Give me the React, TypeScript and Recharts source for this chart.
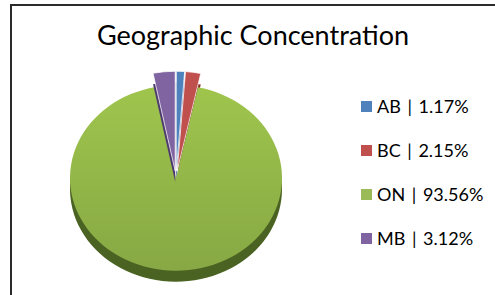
import { PieChart, Pie, Cell, Sector, Legend } from "recharts";

const regions = ["AB", "BC", "ON", "MB"];
const shares = [1.17, 2.15, 93.56, 3.12];
const colors = ["#4f81bd", "#c0504d", "#9bbb59", "#8064a2"];
const sideColors = ["#2f5597", "#8b2e2b", "#4b6322", "#4f3a70"];

const data = regions.map((name, i) => ({ name, value: shares[i] }));

const CX = 176;
const CY = 178;
const R = 106;
const TILT = 0.875;
const DEPTH = 11;
const RAD = Math.PI / 180;

function TiltedSlice(props: any) {
    const { cx, cy, innerRadius, outerRadius, startAngle, endAngle, index } = props;
    const mid = (startAngle + endAngle) / 2;
    const small = index !== 2;
    const push = small ? 8 : 0;
    const dx = Math.cos(-mid * RAD) * push;
    const dy = Math.sin(-mid * RAD) * push;
    const r = small ? outerRadius + 8 : outerRadius;
    const tf = `translate(${cx + dx},${cy + dy * TILT}) scale(1,${TILT}) translate(${-cx},${-cy})`;
    const tfSide = `translate(${cx + dx},${cy + dy * TILT + DEPTH}) scale(1,${TILT}) translate(${-cx},${-cy})`;
    return (
        <g>
            <defs>
                <linearGradient id={`face${index}`} x1="0" y1="0" x2="0" y2="1">
                    <stop offset="0%" stopColor="#9fc54d"/>
                    <stop offset="100%" stopColor="#87a844"/>
                </linearGradient>
            </defs>
            <g transform={tfSide}>
                <Sector cx={cx} cy={cy} innerRadius={innerRadius} outerRadius={r}
                        startAngle={startAngle} endAngle={endAngle} fill={sideColors[index]}/>
            </g>
            <g transform={tf}>
                <Sector cx={cx} cy={cy} innerRadius={innerRadius} outerRadius={r}
                        startAngle={startAngle} endAngle={endAngle}
                        fill={index === 2 ? "url(#face2)" : colors[index]}
                        stroke="#ffffff" strokeWidth={small ? 0.8 : 0}/>
            </g>
        </g>
    );
}

function LegendBox() {
    return (
        <div style={{ fontFamily: "Lato, sans-serif", fontSize: 18, color: "#000", wordSpacing: 2 }}>
            {regions.map((name, i) => (
                <div key={name} style={{ display: "flex", alignItems: "center", height: 44, whiteSpace: "pre" }}>
                    <span style={{ width: 11, height: 11, background: colors[i], marginRight: 5, display: "inline-block" }}/>
                    <span>{name} | {shares[i].toFixed(2)}%</span>
                </div>
            ))}
        </div>
    );
}

export default function App() {
    return (
        <div style={{ position: "absolute", left: 0, top: 0, width: 495, height: 295, background: "#fff", overflow: "hidden" }}>
            <div style={{ position: "absolute", left: 10, top: 4, width: 520, height: 320, border: "2px solid #2b2b2b", boxSizing: "border-box" }}/>
            <div style={{ position: "absolute", left: 0, top: 18, width: 506, textAlign: "center", fontFamily: "Lato, sans-serif", fontSize: 27, color: "#000" }}>
                Geographic Concentration
            </div>
            <div style={{ position: "absolute", left: 0, top: 0 }}>
                <PieChart width={495} height={295} margin={{ top: 0, right: 0, bottom: 0, left: 0 }}>
                    <Pie data={data} dataKey="value" nameKey="name" cx={CX} cy={CY}
                         outerRadius={R} startAngle={90} endAngle={-270}
                         stroke="none" isAnimationActive={false} shape={TiltedSlice}>
                        {data.map((d, i) => (
                            <Cell key={d.name} fill={colors[i]}/>
                        ))}
                    </Pie>
                    <Legend layout="vertical" content={LegendBox}
                            wrapperStyle={{ left: 361, top: 84, width: 134 }}/>
                </PieChart>
            </div>
        </div>
    );
}
